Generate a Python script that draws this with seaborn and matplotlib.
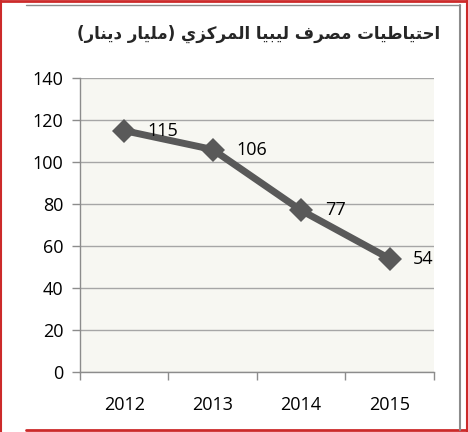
import matplotlib

matplotlib.use("Agg")
import matplotlib.pyplot as plt
import pandas as pd
import seaborn as sns
from matplotlib.lines import Line2D
from matplotlib.ticker import FixedLocator

years = ["2012", "2013", "2014", "2015"]
reserves = [115, 106, 77, 54]
y_ticks = [0, 20, 40, 60, 80, 100, 120, 140]
title_text = "احتياطيات مصرف ليبيا المركزي (مليار دينار)"

# Arabic presentation forms: isolated, final, initial, medial
FORMS = {
    "ا": ("\ufe8d", "\ufe8e", None, None),
    "ح": ("\ufea1", "\ufea2", "\ufea3", "\ufea4"),
    "ت": ("\ufe95", "\ufe96", "\ufe97", "\ufe98"),
    "ي": ("\ufef1", "\ufef2", "\ufef3", "\ufef4"),
    "ط": ("\ufec1", "\ufec2", "\ufec3", "\ufec4"),
    "م": ("\ufee1", "\ufee2", "\ufee3", "\ufee4"),
    "ص": ("\ufeb9", "\ufeba", "\ufebb", "\ufebc"),
    "ر": ("\ufead", "\ufeae", None, None),
    "ف": ("\ufed1", "\ufed2", "\ufed3", "\ufed4"),
    "ل": ("\ufedd", "\ufede", "\ufedf", "\ufee0"),
    "ب": ("\ufe8f", "\ufe90", "\ufe91", "\ufe92"),
    "ك": ("\ufed9", "\ufeda", "\ufedb", "\ufedc"),
    "ز": ("\ufeaf", "\ufeb0", None, None),
    "د": ("\ufea9", "\ufeaa", None, None),
    "ن": ("\ufee5", "\ufee6", "\ufee7", "\ufee8"),
}


def shape_arabic(text):
    out = []
    for i, ch in enumerate(text):
        if ch not in FORMS:
            out.append(ch)
            continue
        prev = text[i - 1] if i > 0 else ""
        nxt = text[i + 1] if i + 1 < len(text) else ""
        joins_prev = prev in FORMS and FORMS[prev][2] is not None
        joins_next = nxt in FORMS and FORMS[ch][2] is not None
        iso, fin, ini, med = FORMS[ch]
        if joins_prev and joins_next:
            out.append(med)
        elif joins_prev:
            out.append(fin)
        elif joins_next:
            out.append(ini)
        else:
            out.append(iso)
    visual = "".join(reversed(out))
    return visual.translate(str.maketrans("()", ")("))


df = pd.DataFrame({"year": years, "reserves": reserves})

sns.set_theme(style="white")
plt.rcParams["font.family"] = ["Open Sans", "DejaVu Sans"]

fig = plt.figure(figsize=(4.68, 4.32), dpi=100)
ax = fig.add_axes([0.171, 0.139, 0.756, 0.68])
ax.set_facecolor("#f7f7f2")

sns.lineplot(
    data=df,
    x="year",
    y="reserves",
    ax=ax,
    color="#595959",
    linewidth=5,
    marker="D",
    markersize=12,
    markeredgewidth=0,
    sort=False,
)

for yr, val in zip(years, reserves):
    ax.annotate(
        str(val),
        xy=(yr, val),
        xytext=(17, 0),
        textcoords="offset points",
        ha="left",
        va="center",
        fontsize=13,
        color="black",
    )

ax.set_ylim(0, 140)
ax.set_yticks(y_ticks)
ax.set_xlim(-0.5, len(years) - 0.5)
ax.set_xticks(range(len(years)))
ax.set_xticklabels(years)
ax.xaxis.set_minor_locator(FixedLocator([i - 0.5 for i in range(len(years) + 1)]))
ax.tick_params(axis="x", which="major", length=0, labelsize=13, pad=17, colors="black")
ax.tick_params(axis="x", which="minor", length=6, width=1, color="#8c8c8c", direction="out", bottom=True)
ax.tick_params(axis="y", length=6, width=1, color="#8c8c8c", labelsize=13, pad=6, colors="black", left=True)
ax.set_xlabel("")
ax.set_ylabel("")
ax.grid(axis="y", color="#a6a6a6", linewidth=1)
ax.set_axisbelow(True)
for side in ["top", "right"]:
    ax.spines[side].set_visible(False)
for side in ["left", "bottom"]:
    ax.spines[side].set_color("#8c8c8c")
    ax.spines[side].set_linewidth(1)

fig.text(
    0.94,
    0.922,
    shape_arabic(title_text),
    ha="right",
    va="center",
    fontsize=12,
    fontweight="bold",
    family="DejaVu Sans",
)

# outer frame
fig.add_artist(Line2D([0.002, 0.002], [0, 1], color="#cc2a2a", linewidth=1.5, transform=fig.transFigure))
fig.add_artist(Line2D([0, 1], [0.998, 0.998], color="#cc2a2a", linewidth=2, transform=fig.transFigure))
fig.add_artist(Line2D([0.998, 0.998], [0, 1], color="#cc2a2a", linewidth=1.5, transform=fig.transFigure))
fig.add_artist(Line2D([0.055, 1], [0.004, 0.004], color="#cc2a2a", linewidth=2, transform=fig.transFigure))
fig.add_artist(Line2D([0.055, 0.983], [0.988, 0.988], color="#8c8c8c", linewidth=1, transform=fig.transFigure))
fig.add_artist(Line2D([0.983, 0.983], [0.004, 0.988], color="#8c8c8c", linewidth=1.5, transform=fig.transFigure))

fig.savefig("out.png", dpi=100)
plt.close(fig)
